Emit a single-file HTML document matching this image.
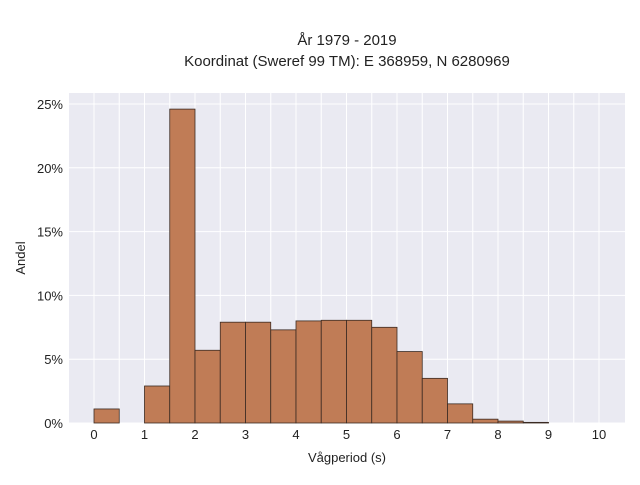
<!DOCTYPE html>
<html><head><meta charset="utf-8"><style>
body{margin:0;background:#fff;font-family:"Liberation Sans",sans-serif}
</style></head><body>
<svg width="640" height="480" xmlns="http://www.w3.org/2000/svg">
<text x="347" y="45" text-anchor="middle" font-size="15" fill="#222">År 1979 - 2019</text>
<text x="347" y="66" text-anchor="middle" font-size="15" fill="#222">Koordinat (Sweref 99 TM): E 368959, N 6280969</text>
<rect x="69" y="93" width="556" height="330" fill="#eaeaf2"/>
<g id="grid"></g>
<g id="bars"></g>
<g id="ticks"></g>
<text x="347" y="462" text-anchor="middle" font-size="13" fill="#222">Vågperiod (s)</text>
<text x="25" y="258" text-anchor="middle" font-size="13" fill="#222" transform="rotate(-90 25 258)">Andel</text>
</svg>
<script>
const binStarts=[0,0.5,1,1.5,2,2.5,3,3.5,4,4.5,5,5.5,6,6.5,7,7.5,8,8.5,9,9.5];
const shares=[1.1,0,2.9,24.6,5.7,7.9,7.9,7.3,8.0,8.05,8.05,7.5,5.6,3.5,1.5,0.3,0.15,0.05,0,0];
const xTicks=[0,1,2,3,4,5,6,7,8,9,10];
const yTicks=[0,5,10,15,20,25];
const binWidth=0.5;
const NS="http://www.w3.org/2000/svg";
const X=v=>94+v*50.5, Y=v=>423-v*12.76;
const grid=document.getElementById('grid'),bars=document.getElementById('bars'),ticks=document.getElementById('ticks');
function mk(tag,attrs,parent){const e=document.createElementNS(NS,tag);for(const k in attrs)e.setAttribute(k,attrs[k]);parent.appendChild(e);return e;}
for(let v=0;v<=10;v+=0.5){const l=mk('line',{x1:X(v),x2:X(v),y1:93,y2:423,stroke:'#fff','stroke-width':1},grid);

}
yTicks.forEach(t=>{const l=mk('line',{x1:69,x2:625,y1:Y(t),y2:Y(t),stroke:'#fff','stroke-width':1},grid);


const tx=mk('text',{x:63,y:Y(t)+5,'text-anchor':'end','font-size':13,fill:'#222'},ticks);tx.textContent=t+'%';

});
xTicks.forEach(t=>{const tx=mk('text',{x:X(t),y:439,'text-anchor':'middle','font-size':13,fill:'#222'},ticks);tx.textContent=t;

});
binStarts.forEach((b,i)=>{if(shares[i]<=0)return;
const r=mk('rect',{x:X(b),y:Y(shares[i]),width:X(b+binWidth)-X(b),height:Y(0)-Y(shares[i]),fill:'#c07c56',stroke:'#3a2a22','stroke-width':0.8},bars);

});
</script>
</body></html>
